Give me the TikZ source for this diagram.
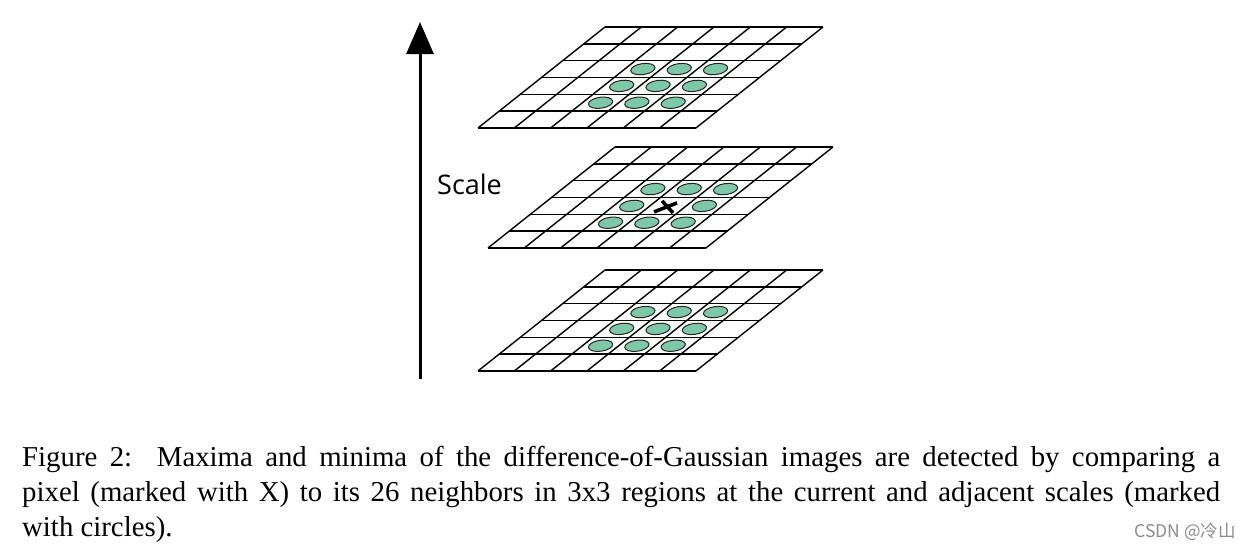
\documentclass[tikz,border=0pt]{standalone}
\usepackage{fontspec}
\setmainfont{Liberation Serif}
\newfontfamily\scalefont{Open Sans}
\newfontfamily\cjkfont{Noto Sans CJK SC}
\usetikzlibrary{arrows.meta,shapes.geometric}
\definecolor{dotgreen}{RGB}{124,200,168}
\tikzset{
  gridline/.style={line width=1.4pt, black},
  nbr/.style={ellipse, draw=black!85, line width=1pt, fill=dotgreen,
    minimum width=24.5pt, minimum height=11pt, inner sep=0pt, rotate=8},
  xmark/.style={line width=3.6pt, black},
  scalearrow/.style={line width=3pt, -{Triangle[width=27pt,length=32pt]}},
}
\newcommand{\dogLayer}[3]{%
  \begin{scope}[shift={(#1,#2)}, x={(36.33pt,0pt)}, y={(-21.17pt,-16.83pt)}]
    \foreach \i in {0,...,6} {\draw[gridline] (\i,0) -- (\i,6);}
    \foreach \j in {0,...,6} {\draw[gridline] (0,\j) -- (6,\j);}
    \foreach \r in {2,3,4} {
      \foreach \c in {2,3,4} {
        \coordinate (#3-\c-\r) at (\c+0.5,\r+0.5);
      }
    }
  \end{scope}
}
\begin{document}
\begin{tikzpicture}[x=1pt,y=-1pt]
\useasboundingbox (0,0) rectangle (1248,549);
\fill[white] (0,0) rectangle (1248,549);

% layers
\dogLayer{605}{27}{top}
\dogLayer{615}{147}{mid}
\dogLayer{605}{270}{bot}

\foreach \c in {2,3,4} {
  \foreach \r in {2,3,4} {
    \node[nbr] (ntop-\c-\r) at (top-\c-\r) {};
    \node[nbr] (nbot-\c-\r) at (bot-\c-\r) {};
  }
}
\foreach \c/\r in {2/2,3/2,4/2,2/3,4/3,2/4,3/4,4/4} {
  \node[nbr] (nmid-\c-\r) at (mid-\c-\r) {};
}
% the X
\draw[xmark, shift={(mid-3-3)}] (-14,6) -- (9,-3);
\draw[xmark, shift={(mid-3-3)}] (-6,-5) -- (5,7);

% scale arrow
\coordinate (abot) at (420,379);
\coordinate (atop) at (420,22);
\draw[scalearrow] (abot) -- (atop);
\node[anchor=base west, inner sep=0pt, font=\scalefont\fontsize{27}{30}\selectfont] (scalelbl) at (437,194) {Scale};

% caption
\node[anchor=base west, inner sep=0pt, text width=1198pt, align=justify,
  font=\fontsize{28.8}{35}\selectfont] (caption) at (22,466)
  {Figure 2:\ \ Maxima and minima of the difference-of-Gaussian images are detected by comparing a\linebreak
   pixel (marked with X) to its 26 neighbors in 3x3 regions at the current and adjacent scales (marked\linebreak
   with circles).};

% watermark
\node[anchor=base east, inner sep=0pt, text=black!45, font=\cjkfont\fontsize{17.5}{20}\selectfont] (wm) at (1236,537) {CSDN @冷山};
\end{tikzpicture}
\end{document}
